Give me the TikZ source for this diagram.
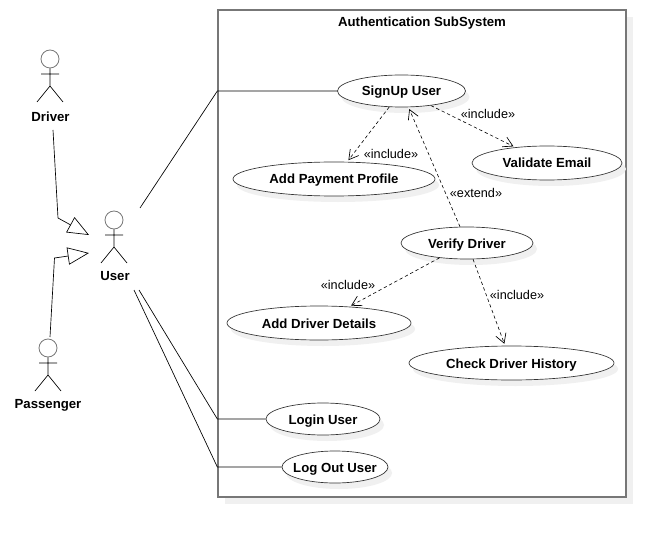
\documentclass[tikz,border=0pt]{standalone}
\usepackage{fontspec}
\setmainfont{Liberation Sans}
\usetikzlibrary{positioning,arrows.meta,shapes.geometric,shadows}
\definecolor{cBorder}{HTML}{777777}
\definecolor{cShadow}{HTML}{F0F0F0}
\tikzset{
  usecase/.style={draw=black!80,fill=white,ellipse,inner sep=0pt,line width=.5pt,
    font=\fontsize{9.9}{12}\selectfont\bfseries,text height=8.5pt,text depth=1pt,
    drop shadow={shadow xshift=3pt,shadow yshift=-4.5pt,fill=cShadow,opacity=1}},
  actorlabel/.style={font=\fontsize{9.9}{12}\selectfont\bfseries,inner sep=1pt},
  stereo/.style={font=\fontsize{9.5}{11}\selectfont,inner sep=1pt},
  assoc/.style={line width=.5pt,black},
  dep/.style={dashed,line width=.45pt,dash pattern=on 2.5pt off 2pt,shorten >=1.5pt,
    -{Straight Barb[length=7pt,width=8pt,line width=.5pt]}},
  gen/.style={line width=.5pt,-{Triangle[open,length=16pt,width=13pt,line width=.5pt]}},
  pics/actor/.style={code={
    \node[circle,draw=cBorder,line width=.6pt,minimum size=13.5pt,inner sep=0pt] (-head) at (0,0) {};
    \draw[line width=.5pt] (-head.south) -- (0,27) (-9,15) -- (9,15) (-13,43) -- (0,27) -- (13,43);
  }}
}
\begin{document}
\begin{tikzpicture}[x=.75pt,y=-.75pt]
  \useasboundingbox (0,0) rectangle (666,538);
  % system boundary
  \node[draw=cBorder,fill=white,line width=1pt,minimum width=306pt,minimum height=365.25pt,inner sep=0pt,
    drop shadow={shadow xshift=5.25pt,shadow yshift=-5.25pt,fill=cShadow,opacity=1}] (system) at (422,253.5) {};
  \node[actorlabel] (systitle) at (422,23) {Authentication SubSystem};
  % use cases
  \node[usecase,minimum width=96pt,minimum height=24pt] (signup) at (401.5,91) {SignUp User};
  \node[usecase,minimum width=151.5pt,minimum height=25.5pt] (payment) at (334,179) {Add Payment Profile};
  \node[usecase,minimum width=112.5pt,minimum height=25.5pt] (validate) at (547,163) {Validate Email};
  \node[usecase,minimum width=99pt,minimum height=24pt] (verify) at (467,243) {Verify Driver};
  \node[usecase,minimum width=138pt,minimum height=25.5pt] (details) at (319,323) {Add Driver Details};
  \node[usecase,minimum width=153.75pt,minimum height=25.5pt] (history) at (511.5,363) {Check Driver History};
  \node[usecase,minimum width=85.5pt,minimum height=24pt] (login) at (323,419) {Login User};
  \node[usecase,minimum width=79.5pt,minimum height=24pt,inner xsep=-6pt] (logout) at (335,467) {Log Out User};
  % actors
  \pic (driver) at (50,59) {actor};
  \pic (user) at (114,220) {actor};
  \pic (passenger) at (48,348) {actor};
  \node[actorlabel] (driverlabel) at (50.5,116.5) {Driver};
  \node[actorlabel] (userlabel) at (115,276.5) {User};
  \node[actorlabel] (passengerlabel) at (48,405) {Passenger};
  % free ends
  \coordinate (driverout) at (53,130);
  \coordinate (driverbend) at (58,218);
  \coordinate (drivertip) at (89,235);
  \coordinate (passengerout) at (50,337);
  \coordinate (passengerbend) at (54.5,258);
  \coordinate (passengertip) at (89,253);
  \coordinate (userup) at (140,208);
  \coordinate (userlogin) at (139,290);
  \coordinate (userlogout) at (134,290);
  % generalisation
  \draw[gen] (driverout) -- (driverbend) -- (drivertip);
  \draw[gen] (passengerout) -- (passengerbend) -- (passengertip);
  % associations
  \draw[assoc] (userup) -- (system.west |- signup.west) -- (signup.west);
  \draw[assoc] (userlogin) -- (system.west |- login.west) -- (login.west);
  \draw[assoc] (userlogout) -- (system.west |- logout.west) -- (logout.west);
  % dependencies
  \draw[dep] (signup) -- (payment);
  \draw[dep] (signup) -- (validate);
  \draw[dep] (verify) -- (signup);
  \draw[dep] (verify) -- (details);
  \draw[dep] (verify) -- (history);
  \node[stereo] (inc1) at (391,153.5) {«include»};
  \node[stereo] (inc2) at (488,113.5) {«include»};
  \node[stereo] (ext1) at (476,192.5) {«extend»};
  \node[stereo] (inc3) at (348,284.5) {«include»};
  \node[stereo] (inc4) at (517,294.5) {«include»};
\end{tikzpicture}
\end{document}
